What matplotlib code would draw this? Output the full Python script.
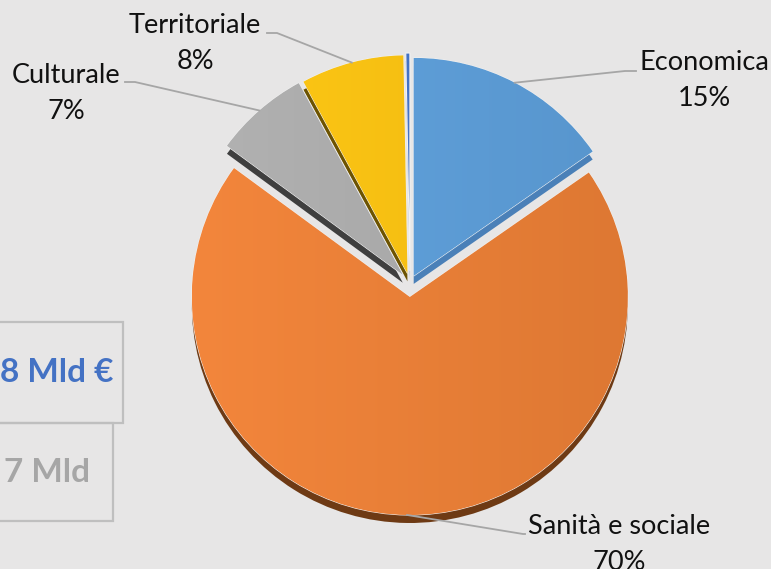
import numpy as np
import matplotlib
matplotlib.use('Agg')
import matplotlib.pyplot as plt
from matplotlib.colors import to_rgb
from matplotlib.patches import Rectangle

plt.rcParams['font.family'] = ['Lato', 'DejaVu Sans']

# data (share of spending by area)
categories = ['Economica', 'Sanità e sociale', 'Culturale', 'Territoriale', '']
values = [15.3, 69.6, 7.0, 7.6, 0.3]
colors = ['#5b9bd5', '#e77d35', '#a8a8a8', '#f7be10', '#4472c4']
dark = ['#4a80b8', '#6e3a14', '#3f3f3f', '#6d5300', '#2f5597']
explode = [8, 14, 11, 10, 12]

# summary boxes (partly cut off on the left in the original)
box_texts = ['8 Mld €', '7 Mld']
box_colors = ['#4472c4', '#a6a6a6']

W, H = 771, 569
bg = '#e7e6e6'
fig = plt.figure(figsize=(W / 100, H / 100), dpi=100, facecolor=bg)
ax = fig.add_axes([0, 0, 1, 1])
ax.set_facecolor(bg)

cx, cy = 410, H - 283
r = 218
depth = 8

# side wall (dark copy shifted down) then the top face
shadow, _ = ax.pie(values, explode=explode, colors=dark,
                   startangle=90, counterclock=False, radius=r,
                   center=(cx, cy - depth), normalize=True,
                   wedgeprops=dict(linewidth=0))
wedges, _ = ax.pie(values, explode=explode, colors=colors,
                   startangle=90, counterclock=False, radius=r,
                   center=(cx, cy), normalize=True,
                   wedgeprops=dict(linewidth=0.8, edgecolor='#f2f2f2'))
for w in shadow:
    w.set_zorder(1)
for w in wedges:
    w.set_zorder(2)

# soft left-to-right shading on the bigger slices, like the office 3D look
for w, c in zip(wedges[:4], colors[:4]):
    base = np.array(to_rgb(c))
    light = np.clip(base * 1.03 + 0.02, 0, 1)
    shade = base * 0.96
    t = np.linspace(0, 1, 64)[None, :, None]
    img = light * (1 - t) + shade * t
    x1, y1 = w.center[0] - w.r, w.center[1] - w.r
    im = ax.imshow(img, extent=(x1, x1 + 2 * w.r, y1, y1 + 2 * w.r),
                   aspect='auto', zorder=2.1, interpolation='bilinear')
    im.set_clip_path(w)

# labels with leader lines (elbow + text position, in pixels from top)
label_pos = {
    'Economica': ((625, 71), (636, 71), (704, 62)),
    'Sanità e sociale': ((523, 534), (525, 534), (619, 526)),
    'Culturale': ((135, 82), (125, 82), (66, 75)),
    'Territoriale': ((277, 33), (267, 33), (195, 25)),
}
total = sum(values)
for w, name, v in zip(wedges, categories, values):
    if name not in label_pos:
        continue
    mid = np.deg2rad((w.theta1 + w.theta2) / 2)
    x0 = w.center[0] + w.r * np.cos(mid)
    y0 = w.center[1] + w.r * np.sin(mid)
    (ex, ey), (hx, hy), (tx, ty) = label_pos[name]
    ax.plot([x0, ex, hx], [y0, H - ey, H - hy], color='#a6a6a6', lw=1.3, zorder=3)
    ax.text(tx, H - ty, name, ha='center', va='center', fontsize=19.5, color='#111111')
    ax.text(tx, H - ty - 36, f'{v / total * 100:.0f}%', ha='center', va='center',
            fontsize=19.5, color='#111111')

# boxes on the left
boxes = [(-20, H - 423, 143, 101), (-20, H - 521, 133, 98)]
text_x = [113, 90]
for (bx, by, bw, bh), t, c, txx in zip(boxes, box_texts, box_colors, text_x):
    ax.add_patch(Rectangle((bx, by), bw, bh, facecolor='none', edgecolor='#bfbfbf',
                           lw=1.6, zorder=4))
    ax.text(txx, by + bh / 2, t, ha='right', va='center', fontsize=24,
            fontweight='bold', color=c, zorder=5)

ax.set_xlim(0, W)
ax.set_ylim(0, H)
ax.set_aspect('auto')
ax.axis('off')

fig.savefig('out.png', dpi=100, facecolor=bg)
